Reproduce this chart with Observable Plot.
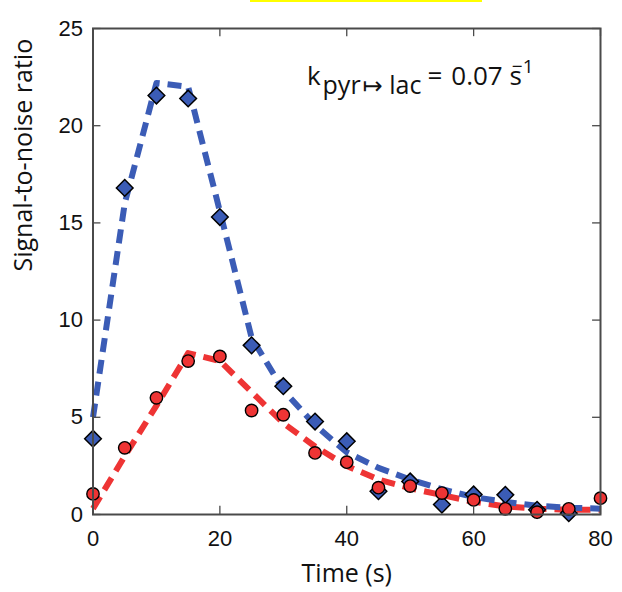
<!DOCTYPE html>
<html>
<head>
<meta charset="utf-8">
<script src="https://cdn.jsdelivr.net/npm/d3@7"></script>
<script src="https://cdn.jsdelivr.net/npm/@observablehq/plot@0.6"></script>
<style>
  html, body { margin: 0; padding: 0; background: #fff; }
  #wrap { position: relative; width: 622px; height: 592px; }
  #bar { position: absolute; left: 250px; top: 0; width: 232px; height: 2px; background: #ffff00; }
</style>
</head>
<body>
<div id="wrap"><div id="bar"></div></div>
<script>
// Time points (s)
const time = [0, 5, 10, 15, 20, 25, 30, 35, 40, 45, 50, 55, 60, 65, 70, 75, 80];
// Measured SNR – pyruvate (blue diamonds)
const pyrMeasured = [3.9, 16.8, 21.55, 21.4, 15.3, 8.7, 6.6, 4.78, 3.77, 1.2, 1.7, 0.51, 1.03, 1.01, 0.24, 0.07];
// Measured SNR – lactate (red circles)
const lacMeasured = [1.06, 3.43, 6.0, 7.89, 8.13, 5.35, 5.13, 3.17, 2.69, 1.38, 1.46, 1.1, 0.75, 0.29, 0.12, 0.29, 0.84];
// Fitted curves
const pyrFit = [5.0, 16.0, 22.2, 22.0, 15.6, 9.1, 6.4, 4.6, 3.2, 2.4, 1.8, 1.3, 0.9, 0.65, 0.45, 0.35, 0.3];
const lacFit = [0.3, 3.0, 5.6, 8.3, 7.9, 6.3, 4.7, 3.5, 2.5, 1.8, 1.35, 1.0, 0.65, 0.42, 0.3, 0.25, 0.25];
// Ticks
const xTicks = [0, 20, 40, 60, 80];
const yTicks = [0, 5, 10, 15, 20, 25];

const pyrPts = pyrMeasured.map((v, i) => ({t: time[i], v}));
const lacPts = lacMeasured.map((v, i) => ({t: time[i], v}));
const pyrLine = pyrFit.map((v, i) => ({t: time[i], v}));
const lacLine = lacFit.map((v, i) => ({t: time[i], v}));

const blue = "#3b5cb6";
const red = "#ee3434";
const frameColor = "#4a4a4a";
const tickLenX = 1.25; // in x units (~8px)
const tickLenY = 0.42; // in y units (~8px)

const plot = Plot.plot({
  width: 622,
  height: 592,
  marginLeft: 92.5,
  marginRight: 22,
  marginTop: 28,
  marginBottom: 78,
  x: {domain: [0, 80]},
  y: {domain: [0, 25]},
  style: {background: "transparent"},
  marks: [
    Plot.line(lacLine, {x: "t", y: "v", stroke: red, strokeWidth: 6, strokeDasharray: "14,8", strokeLinecap: "butt"}),
    Plot.line(pyrLine, {x: "t", y: "v", stroke: blue, strokeWidth: 6, strokeDasharray: "14,8", strokeLinecap: "butt"}),
    Plot.dot(pyrPts, {x: "t", y: "v", symbol: "diamond2", r: 7.5, fill: blue, stroke: "#000", strokeWidth: 1.5}),
    Plot.dot(lacPts, {x: "t", y: "v", symbol: "circle", r: 6.2, fill: red, stroke: "#000", strokeWidth: 1.4}),
    // inward ticks
    Plot.ruleY(yTicks, {y: d => d, x1: 0, x2: tickLenX, stroke: frameColor, strokeWidth: 1.3}),
    Plot.ruleY(yTicks, {y: d => d, x1: 80 - tickLenX, x2: 80, stroke: frameColor, strokeWidth: 1.3}),
    Plot.ruleX(xTicks, {x: d => d, y1: 0, y2: tickLenY, stroke: frameColor, strokeWidth: 1.3}),
    Plot.ruleX(xTicks, {x: d => d, y1: 25 - tickLenY, y2: 25, stroke: frameColor, strokeWidth: 1.3}),
    Plot.frame({stroke: frameColor, strokeWidth: 2}),
    Plot.axisX(xTicks, {tickSize: 0, tickPadding: 16, fontSize: 22, fontFamily: "Liberation Sans, Arial, sans-serif", fill: "#111", label: null}),
    Plot.axisY(yTicks, {tickSize: 0, tickPadding: 10, fontSize: 22, fontFamily: "Liberation Sans, Arial, sans-serif", fill: "#111", label: null}),
    Plot.text(["Time (s)"], {frameAnchor: "bottom", dy: 67, fontSize: 25, fontFamily: "Open Sans, sans-serif", fill: "#111"}),
    Plot.text(["Signal-to-noise ratio"], {frameAnchor: "left", rotate: -90, dx: -69, fontSize: 25, fontFamily: "Open Sans, sans-serif", fill: "#111"})
  ]
});

document.getElementById("wrap").appendChild(plot);

// Rate-constant annotation
const sx = plot.scale("x"), sy = plot.scale("y");
const svg = d3.select(plot);
const ann = svg.append("text")
  .attr("x", sx.apply(33.8))
  .attr("y", sy.apply(22.07))
  .attr("text-anchor", "start")
  .attr("font-family", "Open Sans, DejaVu Sans, sans-serif")
  .attr("font-size", 26)
  .attr("fill", "#111");
ann.append("tspan").text("k");
ann.append("tspan").attr("dy", 9).attr("dx", 2).attr("font-size", 25).text("pyr");
ann.append("tspan").attr("font-size", 24).attr("dx", 2).attr("font-family", "DejaVu Sans, sans-serif").text("\u21A6");
ann.append("tspan").attr("font-size", 25).text(" lac");
ann.append("tspan").attr("dy", -9).attr("dx", 6).text("=");
ann.append("tspan").attr("dx", 9).text("0.07 s");
ann.append("tspan").attr("dy", -12).attr("dx", -10).attr("font-size", 19).text("\u22121");
</script>
</body>
</html>
